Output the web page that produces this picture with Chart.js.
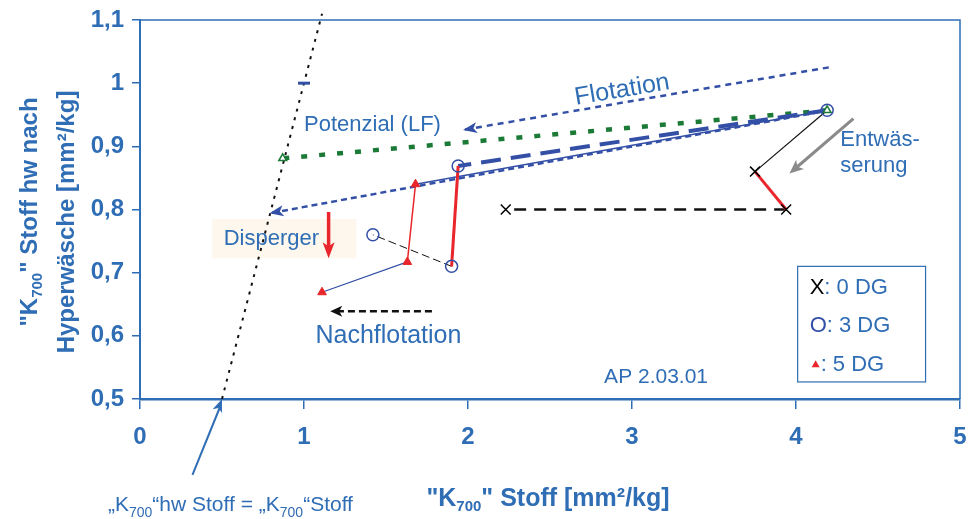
<!DOCTYPE html>
<html><head><meta charset="utf-8">
<script src="https://cdn.jsdelivr.net/npm/chart.js@4"></script>
<style>html,body{margin:0;padding:0;background:#fff}#wrap{width:975px;height:519px}</style>
</head><body><div id="wrap"><canvas id="c"></canvas></div>
<script>
// ---- data (x = "K700" Stoff, y = "K700" Stoff hw nach Hyperwäsche) ----
const xTicks = [0, 1, 2, 3, 4, 5];
const yTicks = [0.5, 0.6, 0.7, 0.8, 0.9, 1.0, 1.1];
const lineIdentity   = [[0.5, 0.5], [1.11, 1.11]];
const markIdentity   = [[1.0, 1.0]];
const lineFlotation  = [[4.2, 1.025], [1.97, 0.926]];
const linePotential  = [[4.2, 0.957], [0.79, 0.794]];
const lineGreen      = [[4.19, 0.957], [0.87, 0.881]];
const dg3Flot = [[4.19, 0.957], [1.94, 0.869]];
const dg3Disp = [[1.94, 0.869], [1.90, 0.71]];
const dg3Nach = [[1.90, 0.71], [1.42, 0.76]];
const dg5Flot = [[4.19, 0.957], [1.68, 0.84]];
const dg5Disp = [[1.68, 0.84], [1.63, 0.717]];
const dg5Nach = [[1.63, 0.717], [1.11, 0.669]];
const dg0Ent  = [[4.19, 0.957], [3.75, 0.86]];
const dg0Disp = [[3.75, 0.86], [3.94, 0.80]];
const dg0Nach = [[3.94, 0.80], [2.23, 0.80]];
const markDG0 = [[2.23, 0.80], [3.94, 0.80], [3.75, 0.86]];
const markDG3 = [[1.94, 0.869], [1.90, 0.71], [1.42, 0.76], [4.19, 0.957]];
const markDG5 = [[1.68, 0.84], [1.63, 0.717], [1.11, 0.669]];
const markGreen = [[0.87, 0.881], [4.19, 0.957]];

const BLUE = '#2f6db5', NAVY = '#3450a6', GREEN = '#1a7a36', RED = '#e8262b';
const FONT = '"Liberation Sans", Arial, sans-serif';

const pts = a => a.map(p => ({x: p[0], y: p[1]}));
function line(data, color, width, dash, order) {
  return {data: pts(data), showLine: true, borderColor: color, borderWidth: width,
    borderDash: dash || [], pointRadius: 0, pointHoverRadius: 0, order: order || 10, fill: false};
}
function marks(data, style, radius, border, bg, bw, order) {
  return {data: pts(data), showLine: false, pointStyle: style, pointRadius: radius,
    borderColor: border, backgroundColor: bg, pointBorderWidth: bw, borderWidth: bw, order: order || 1};
}

const identityDs = line(lineIdentity, '#111', 2, [3, 6], 20); identityDs.clip = false;
const datasets = [
  marks(markDG0, 'crossRot', 7, '#000', '#000', 1.5, 1),
  marks(markDG3, 'circle', 6, NAVY, 'rgba(255,255,255,0)', 1.5, 1),
  marks(markDG5, 'triangle', 5, RED, RED, 1, 1),
  marks(markGreen, 'triangle', 4.5, GREEN, '#fff', 1.5, 0),
  marks(markIdentity, 'line', 6, NAVY, NAVY, 3, 1),
  identityDs,
  line(lineFlotation, NAVY, 2.5, [6, 5], 12),
  line(linePotential, NAVY, 2.5, [6, 4], 12),
  line(lineGreen, GREEN, 4.5, [6, 12], 11),
  line(dg3Flot, NAVY, 4, [20, 10], 9),
  line(dg3Disp, RED, 3, [], 5),
  line(dg3Nach, '#111', 1, [8, 4], 5),
  line(dg5Flot, NAVY, 1.5, [], 9),
  line(dg5Disp, RED, 1.5, [], 5),
  line(dg5Nach, NAVY, 1.2, [], 5),
  line(dg0Ent, '#111', 1.2, [], 5),
  line(dg0Disp, RED, 3, [], 5),
  line(dg0Nach, '#111', 2.5, [12, 8], 5)
];

// annotation anchors in data coordinates
const arrowFlotation = [[2.2, 0.936], [1.97, 0.926]];
const arrowPotential = [[1.0, 0.804], [0.79, 0.794]];
const arrowIdentity  = [[0.32, 0.38], [0.5, 0.5]];
const arrowDisperger = [[1.15, 0.796], [1.15, 0.723]];
const arrowNach      = [[1.78, 0.639], [1.16, 0.639]];
const arrowEntw      = [[4.35, 0.944], [3.96, 0.857]];

function drawHead(ctx, x1, y1, x2, y2, len, wid, color) {
  const a = Math.atan2(y2 - y1, x2 - x1);
  ctx.save(); ctx.translate(x2, y2); ctx.rotate(a);
  ctx.fillStyle = color; ctx.beginPath();
  ctx.moveTo(0, 0); ctx.lineTo(-len, -wid / 2); ctx.lineTo(-len * 0.75, 0); ctx.lineTo(-len, wid / 2);
  ctx.closePath(); ctx.fill(); ctx.restore();
}
function richWidth(ctx, parts, f, fs) {
  let w = 0;
  parts.forEach(p => { ctx.font = p.sub ? fs : f; w += ctx.measureText(p.t).width; });
  return w;
}
function drawRich(ctx, parts, x, y, f, fs, subOff) {
  parts.forEach(p => {
    ctx.font = p.sub ? fs : f;
    ctx.fillText(p.t, x, y + (p.sub ? subOff : 0));
    x += ctx.measureText(p.t).width;
  });
}

const annot = {
  id: 'annot',
  beforeDatasetsDraw(chart) {
    const {ctx, scales: {x, y}} = chart;
    const X = v => x.getPixelForValue(v), Y = v => y.getPixelForValue(v);
    ctx.save();
    ctx.fillStyle = '#fdf7ee';
    ctx.fillRect(X(0.44), Y(0.785), X(1.32) - X(0.44), Y(0.723) - Y(0.785));
    ctx.restore();
  },
  afterDatasetsDraw(chart) {
    const {ctx, chartArea: ca, scales: {x, y}} = chart;
    const X = v => x.getPixelForValue(v), Y = v => y.getPixelForValue(v);
    const P = p => [X(p[0]), Y(p[1])];
    ctx.save();
    // frame
    ctx.strokeStyle = BLUE; ctx.lineWidth = 1.5;
    ctx.beginPath(); ctx.moveTo(ca.left, ca.top); ctx.lineTo(ca.right, ca.top); ctx.lineTo(ca.right, ca.bottom); ctx.stroke();

    let a = P(arrowFlotation[0]), b = P(arrowFlotation[1]);
    drawHead(ctx, a[0], a[1], b[0], b[1], 14, 11, NAVY);
    a = P(arrowPotential[0]); b = P(arrowPotential[1]);
    drawHead(ctx, a[0], a[1], b[0], b[1], 14, 11, NAVY);

    a = P(arrowIdentity[0]); b = P(arrowIdentity[1]);
    ctx.strokeStyle = BLUE; ctx.lineWidth = 2; ctx.setLineDash([]);
    ctx.beginPath(); ctx.moveTo(a[0], a[1]); ctx.lineTo(b[0] - 2, b[1] + 8); ctx.stroke();
    drawHead(ctx, a[0], a[1], b[0], b[1], 13, 10, BLUE);

    a = P(arrowDisperger[0]); b = P(arrowDisperger[1]);
    ctx.strokeStyle = RED; ctx.lineWidth = 3.5;
    ctx.beginPath(); ctx.moveTo(a[0], a[1]); ctx.lineTo(b[0], b[1] - 10); ctx.stroke();
    drawHead(ctx, a[0], a[1], b[0], b[1], 16, 12, RED);

    a = P(arrowNach[0]); b = P(arrowNach[1]);
    ctx.strokeStyle = '#111'; ctx.lineWidth = 2.5; ctx.setLineDash([7, 4]);
    ctx.beginPath(); ctx.moveTo(a[0], a[1]); ctx.lineTo(b[0] + 8, b[1]); ctx.stroke();
    ctx.setLineDash([]);
    drawHead(ctx, a[0], a[1], b[0], b[1], 12, 11, '#111');

    a = P(arrowEntw[0]); b = P(arrowEntw[1]);
    ctx.strokeStyle = '#8a8a8a'; ctx.lineWidth = 3;
    ctx.beginPath(); ctx.moveTo(a[0], a[1]); ctx.lineTo(b[0] + 7, b[1] - 6); ctx.stroke();
    drawHead(ctx, a[0], a[1], b[0], b[1], 14, 12, '#8a8a8a');

    // texts
    ctx.fillStyle = BLUE; ctx.textBaseline = 'middle'; ctx.textAlign = 'left';
    ctx.font = '22px ' + FONT; ctx.fillText('Potenzial (LF)', X(1.0), Y(0.934));
    ctx.font = '22px ' + FONT; ctx.fillText('Disperger', X(0.51), Y(0.753));
    ctx.font = '25px ' + FONT; ctx.fillText('Nachflotation', X(1.07), Y(0.6));
    ctx.font = '21px ' + FONT; ctx.fillText('AP 2.03.01', X(2.83), Y(0.535));
    ctx.font = '22px ' + FONT; ctx.fillText('Entwäs-', X(4.27), Y(0.91)); ctx.fillText('serung', X(4.27), Y(0.869));
    ctx.save(); ctx.translate(X(2.94), Y(0.989)); ctx.rotate(-9.5 * Math.PI / 180);
    ctx.textAlign = 'center'; ctx.font = '25px ' + FONT; ctx.fillText('Flotation', 0, 0); ctx.restore();

    // legend box
    const lx1 = X(4.01), lx2 = X(4.79), ly1 = Y(0.71), ly2 = Y(0.527);
    ctx.fillStyle = '#fff'; ctx.fillRect(lx1, ly1, lx2 - lx1, ly2 - ly1);
    ctx.strokeStyle = BLUE; ctx.lineWidth = 1.2; ctx.strokeRect(lx1, ly1, lx2 - lx1, ly2 - ly1);
    ctx.font = '22px ' + FONT; ctx.textAlign = 'left';
    let tx = lx1 + 12;
    ctx.fillStyle = '#000'; ctx.fillText('X', tx, ly1 + 22);
    ctx.fillStyle = BLUE; ctx.fillText(': 0 DG', tx + ctx.measureText('X').width, ly1 + 22);
    ctx.fillStyle = NAVY; ctx.fillText('O', tx, ly1 + 60);
    ctx.fillStyle = BLUE; ctx.fillText(': 3 DG', tx + ctx.measureText('O').width, ly1 + 60);
    ctx.fillStyle = RED; ctx.beginPath();
    ctx.moveTo(tx + 6, ly1 + 94); ctx.lineTo(tx + 10, ly1 + 101); ctx.lineTo(tx + 2, ly1 + 101); ctx.closePath(); ctx.fill();
    ctx.fillStyle = BLUE; ctx.fillText(': 5 DG', tx + 11, ly1 + 99);

    // bottom note
    ctx.fillStyle = BLUE; ctx.textBaseline = 'alphabetic';
    drawRich(ctx, [{t: '„K'}, {t: '700', sub: 1}, {t: '“hw Stoff = „K'}, {t: '700', sub: 1}, {t: '“Stoff'}],
      108, 511, '21px ' + FONT, '14px ' + FONT, 6);

    // x axis title
    const bf = 'bold 25px ' + FONT, bfs = 'bold 15px ' + FONT;
    const xt = [{t: '"K'}, {t: '700', sub: 1}, {t: '" Stoff [mm²/kg]'}];
    ctx.fillStyle = BLUE;
    drawRich(ctx, xt, 548 - richWidth(ctx, xt, bf, bfs) / 2, 506, bf, bfs, 5);
    // y axis title
    const yf = 'bold 24px ' + FONT, yfs = 'bold 15px ' + FONT;
    const y1 = [{t: '"K'}, {t: '700', sub: 1}, {t: '" Stoff hw nach'}];
    const y2 = [{t: 'Hyperwäsche [mm²/kg]'}];
    ctx.save(); ctx.translate(37, 212); ctx.rotate(-Math.PI / 2);
    drawRich(ctx, y1, -richWidth(ctx, y1, yf, yfs) / 2, 0, yf, yfs, 5); ctx.restore();
    ctx.save(); ctx.translate(74, 222); ctx.rotate(-Math.PI / 2);
    drawRich(ctx, y2, -richWidth(ctx, y2, yf, yfs) / 2, 0, yf, yfs, 5); ctx.restore();
    ctx.restore();
  }
};

new Chart(document.getElementById('c'), {
  type: 'scatter',
  data: {datasets},
  options: {
    responsive: true, maintainAspectRatio: false, animation: false,
    layout: {padding: {top: 20, right: 15, left: 0, bottom: 0}},
    plugins: {legend: {display: false}, tooltip: {enabled: false}},
    scales: {
      x: {
        type: 'linear', min: 0, max: 5,
        afterBuildTicks: s => { s.ticks = xTicks.map(v => ({value: v})); },
        afterFit: s => { s.height = 120; s.paddingLeft = 0; s.paddingRight = 0; },
        ticks: {color: BLUE, font: {family: FONT, size: 24, weight: 'bold'}, padding: 14, maxRotation: 0},
        grid: {drawOnChartArea: false, drawTicks: true, tickLength: 10, color: BLUE, lineWidth: 1.5},
        border: {color: BLUE, width: 2.5}
      },
      y: {
        type: 'linear', min: 0.5, max: 1.1,
        afterBuildTicks: s => { s.ticks = yTicks.map(v => ({value: v})); },
        afterFit: s => { s.width = 140; s.paddingTop = 0; s.paddingBottom = 0; },
        ticks: {color: BLUE, font: {family: FONT, size: 24, weight: 'bold'}, padding: 8,
          callback: v => String(Math.round(v * 10) / 10).replace('.', ',')},
        grid: {drawOnChartArea: false, drawTicks: true, tickLength: 8, color: BLUE, lineWidth: 1.5},
        border: {color: BLUE, width: 2}
      }
    }
  },
  plugins: [annot]
});
</script></body></html>
